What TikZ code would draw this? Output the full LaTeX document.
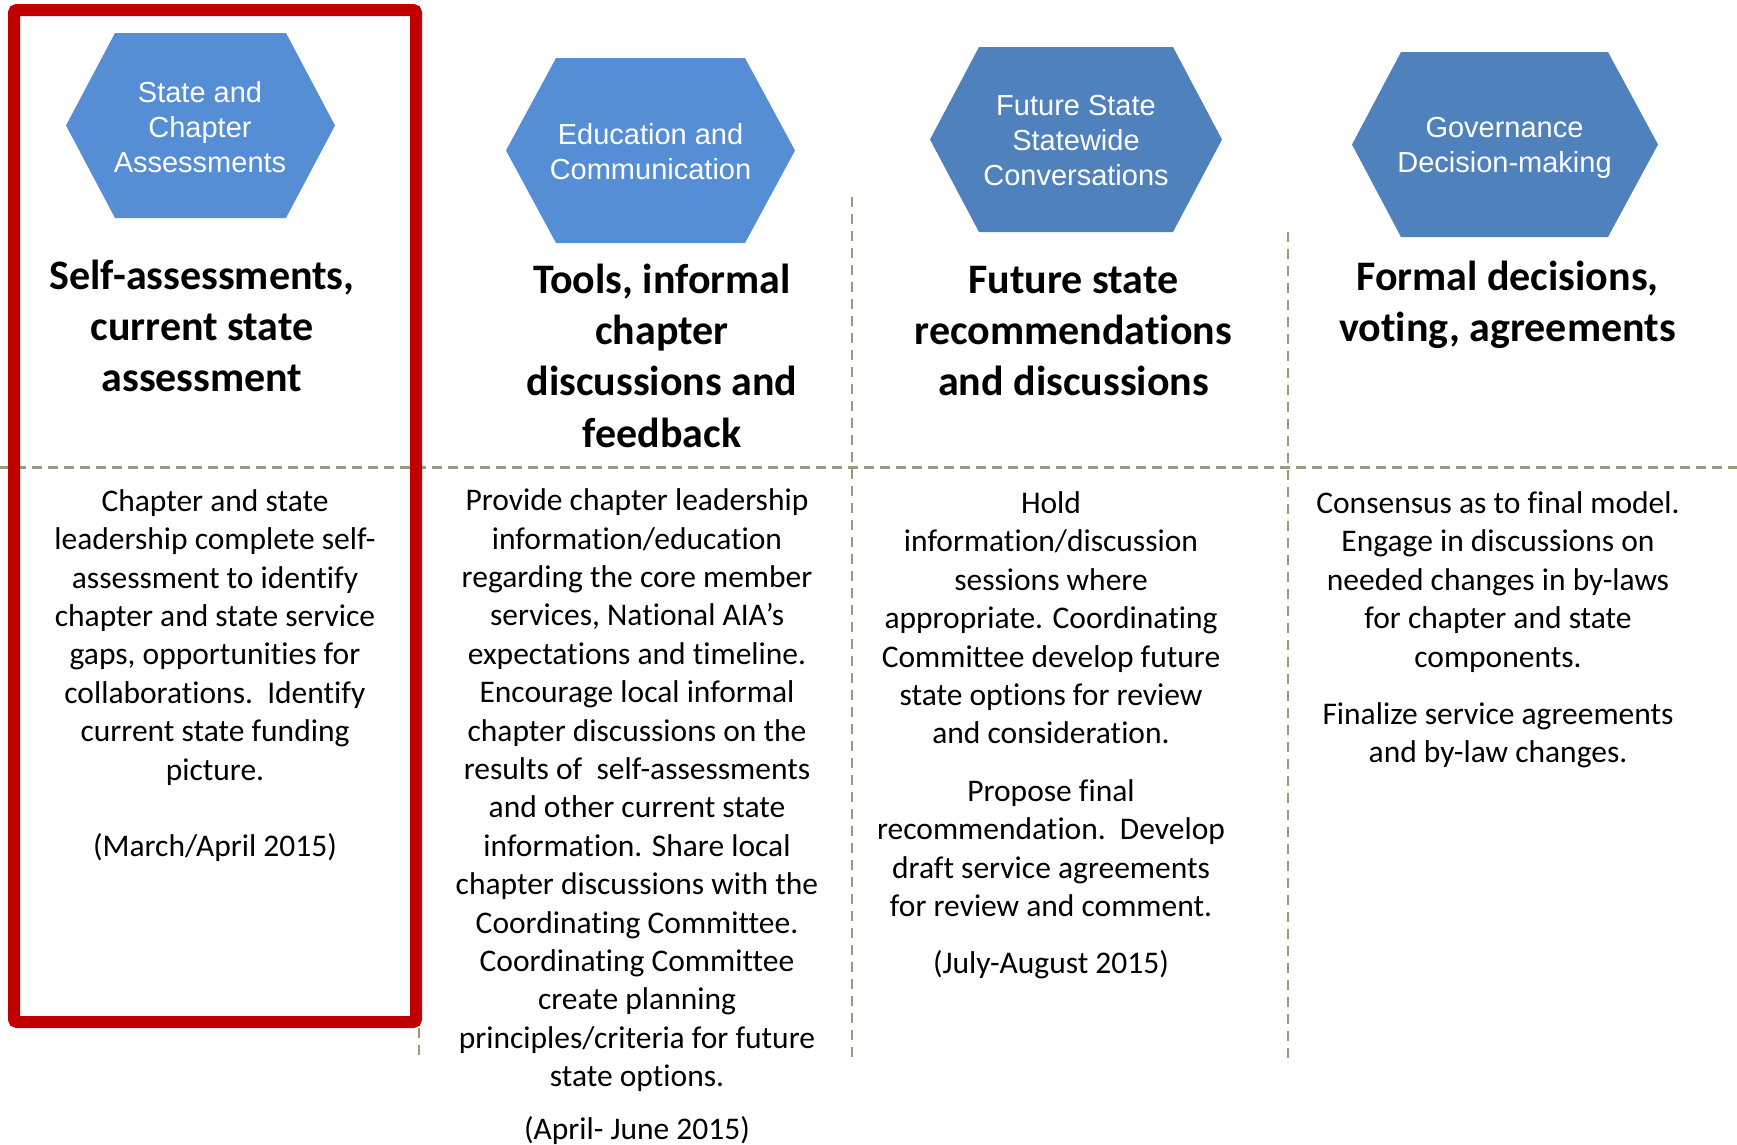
\documentclass[tikz,border=0pt]{standalone}
\usepackage{fontspec}
\setmainfont{Carlito}[Ligatures={NoCommon,NoRequired,NoContextual},RawFeature={-liga;-clig;-dlig;-calt;-rlig}]
\newfontfamily\arialfont{Liberation Sans}
\definecolor{hexlight}{HTML}{558ED5}
\definecolor{hexdark}{HTML}{4F81BD}
\definecolor{framered}{HTML}{C00000}
\definecolor{divider}{RGB}{155,155,122}
\newcommand{\fst}{\rule{0pt}{1em}}
\tikzset{
  hexlabel/.style={anchor=north, inner sep=0pt, align=center, text=white, font=\arialfont\fontsize{29}{35}\selectfont},
  headtext/.style={anchor=north, inner sep=0pt, align=center, font=\bfseries\fontsize{42}{51.3}\selectfont},
  bodytext/.style={anchor=north, inner sep=0pt, align=center, font=\fontsize{31.5}{38.4}\selectfont},
  hdash/.style={draw=divider, line width=3pt, dash pattern=on 10pt off 6pt},
  vdash/.style={draw=divider, line width=2.4pt, dash pattern=on 10pt off 7pt},
  highlight/.style={draw=framered, line width=12pt, rounded corners=3pt},
}
\begin{document}
\begin{tikzpicture}[x=1pt,y=-1pt]
\useasboundingbox[fill=white] (0,0) rectangle (1737,1144);

% dividers
\coordinate (hl) at (0,467);
\coordinate (hr) at (1737,467);
\coordinate (v1t) at (419,467);
\coordinate (v1b) at (419,1057);
\coordinate (v2t) at (852,197);
\coordinate (v2b) at (852,1064);
\coordinate (v3t) at (1288,232);
\coordinate (v3b) at (1288,1064);
\draw[hdash] (hl) -- (hr);
\draw[vdash] (v1t) -- (v1b);
\draw[vdash] (v2t) -- (v2b);
\draw[vdash] (v3t) -- (v3b);

% hexagons
\fill[hexlight] (66,125.5) -- (115,33) -- (286,33) -- (335,125.5) -- (286,218) -- (115,218) -- cycle;
\fill[hexlight] (506,150.5) -- (556,58) -- (745,58) -- (795,150.5) -- (745,243) -- (556,243) -- cycle;
\fill[hexdark] (930,139.5) -- (979,47) -- (1173,47) -- (1222,139.5) -- (1173,232) -- (979,232) -- cycle;
\fill[hexdark] (1352,144.5) -- (1401,52) -- (1608,52) -- (1658,144.5) -- (1608,237) -- (1401,237) -- cycle;

\node[hexlabel] (hex1) at (200,73) {\fst State and\\Chapter\\Assessments};
\node[hexlabel] (hex2) at (650.5,115) {\fst Education and\\Communication};
\node[hexlabel] (hex3) at (1076,86) {\fst Future State\\Statewide\\Conversations};
\node[hexlabel] (hex4) at (1504.5,108.5) {\fst Governance\\Decision-making};

% headings
\node[headtext] (head1) at (202,247) {\fst Self-assessments,\\current state\\assessment};
\node[headtext] (head2) at (662,251) {\fst Tools, informal\\chapter\\discussions and\\feedback};
\node[headtext] (head3) at (1073.5,251) {\fst Future state\\recommendations\\and discussions};
\node[headtext] (head4) at (1507.5,248) {\fst Formal decisions,\\voting, agreements};

% bodies
\node[bodytext] (body1) at (215,479.5) {\fst Chapter and state\\leadership complete self-\\assessment to identify\\chapter and state service\\gaps, opportunities for\\collaborations.\ \ Identify\\current state funding\\picture.\\[38.4pt](March/April 2015)};
\node[bodytext] (body2) at (637,479) {\fst Provide chapter leadership\\information/education\\regarding the core member\\services, National AIA’s\\expectations and timeline.\\Encourage local informal\\chapter discussions on the\\results of\ \ self-assessments\\and other current state\\information. Share local\\chapter discussions with the\\Coordinating Committee.\\Coordinating Committee\\create planning\\principles/criteria for future\\state options.\\[14pt](April- June 2015)};
\node[bodytext] (body3) at (1051,481.8) {\fst Hold\\information/discussion\\sessions where\\appropriate. Coordinating\\Committee develop future\\state options for review\\and consideration.\\[19pt]Propose final\\recommendation.\ \ Develop\\draft service agreements\\for review and comment.\\[19pt](July-August 2015)};
\node[bodytext] (body4) at (1498,481.8) {\fst Consensus as to final model.\\Engage in discussions on\\needed changes in by-laws\\for chapter and state\\components.\\[19pt]Finalize service agreements\\and by-law changes.};

% highlight frame
\coordinate (fa) at (14,10);
\coordinate (fb) at (416,1022);
\draw[highlight] (fa) rectangle (fb);
\end{tikzpicture}
\end{document}
